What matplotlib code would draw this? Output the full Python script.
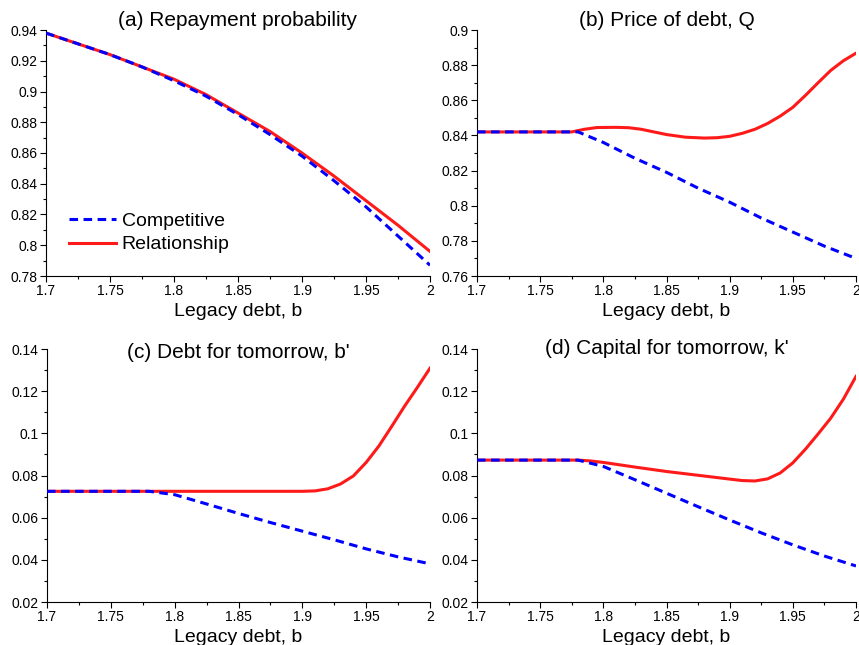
import numpy as np
import matplotlib
matplotlib.use('Agg')
import matplotlib.pyplot as plt
from matplotlib.ticker import MultipleLocator

plt.rcParams['font.family'] = ['Liberation Sans', 'DejaVu Sans']

# (a) repayment probability
b_a = [1.7, 1.725, 1.75, 1.775, 1.8, 1.825, 1.85, 1.875, 1.9, 1.925, 1.95, 1.975, 2.0]
rep_comp = [0.938, 0.931, 0.924, 0.916, 0.907, 0.897, 0.885, 0.872, 0.858, 0.842, 0.825, 0.806, 0.787]
rep_rel = [0.938, 0.931, 0.924, 0.916, 0.908, 0.898, 0.886, 0.874, 0.860, 0.845, 0.829, 0.813, 0.796]

# (b) price of debt
b_b_comp = [1.7, 1.75, 1.78, 1.8, 1.825, 1.85, 1.875, 1.9, 1.925, 1.95, 1.975, 2.0]
q_comp = [0.842, 0.842, 0.842, 0.836, 0.827, 0.819, 0.810, 0.802, 0.793, 0.785, 0.777, 0.770]
b_b_rel = [1.7, 1.75, 1.775, 1.785, 1.795, 1.81, 1.82, 1.83, 1.84, 1.85, 1.865, 1.88, 1.89, 1.9,
           1.91, 1.92, 1.93, 1.94, 1.95, 1.96, 1.97, 1.98, 1.99, 2.0]
q_rel = [0.842, 0.842, 0.842, 0.8435, 0.8445, 0.8446, 0.8444, 0.8435, 0.8420, 0.8405, 0.8390,
         0.8385, 0.8387, 0.8395, 0.8412, 0.8435, 0.8468, 0.8510, 0.8560, 0.8628, 0.8700,
         0.8770, 0.8825, 0.8868]

# (c) debt for tomorrow
b_c_comp = [1.7, 1.75, 1.78, 1.8, 1.825, 1.85, 1.875, 1.9, 1.925, 1.95, 1.975, 2.0]
bp_comp = [0.0725, 0.0725, 0.0725, 0.0709, 0.0665, 0.0620, 0.0577, 0.0536, 0.0495, 0.0452, 0.0414, 0.0381]
b_c_rel = [1.7, 1.8, 1.9, 1.91, 1.92, 1.93, 1.94, 1.95, 1.96, 1.97, 1.98, 1.99, 2.0]
bp_rel = [0.0725, 0.0725, 0.0725, 0.0727, 0.0737, 0.0760, 0.0798, 0.0862, 0.0940, 0.1033,
          0.1128, 0.1217, 0.1309]

# (d) capital for tomorrow
b_d_comp = [1.7, 1.75, 1.78, 1.8, 1.825, 1.85, 1.875, 1.9, 1.925, 1.95, 1.975, 2.0]
kp_comp = [0.0873, 0.0873, 0.0873, 0.0843, 0.0780, 0.0716, 0.0652, 0.0589, 0.0528, 0.0471, 0.0418, 0.0371]
b_d_rel = [1.7, 1.75, 1.78, 1.79, 1.8, 1.825, 1.85, 1.875, 1.9, 1.91, 1.92, 1.93, 1.94, 1.95,
           1.96, 1.97, 1.98, 1.99, 2.0]
kp_rel = [0.0873, 0.0873, 0.0873, 0.0869, 0.0862, 0.0840, 0.0819, 0.0801, 0.0783, 0.0776, 0.0774,
          0.0784, 0.0812, 0.0860, 0.0925, 0.0997, 0.1072, 0.1162, 0.1270]

titles = ['(a) Repayment probability', '(b) Price of debt, Q',
          "(c) Debt for tomorrow, b'", "(d) Capital for tomorrow, k'"]
xticks = [1.7, 1.75, 1.8, 1.85, 1.9, 1.95, 2.0]
xticklabels = ['1.7', '1.75', '1.8', '1.85', '1.9', '1.95', '2']

blue = '#0000ff'
red = '#ff1a1a'

fig = plt.figure(figsize=(8.59, 6.45), dpi=100)
W, H = 859, 645
boxes = [(46, 30, 430, 276), (477, 30, 856, 276), (47, 349, 430, 602), (477, 349, 856, 602)]
axs = []
for (l, t, r, b) in boxes:
    axs.append(fig.add_axes([l / W, 1 - b / H, (r - l) / W, (b - t) / H]))

data = [
    (b_a, rep_comp, b_a, rep_rel, (0.78, 0.94), 0.01, ['0.78', '0.8', '0.82', '0.84', '0.86', '0.88', '0.9', '0.92', '0.94']),
    (b_b_comp, q_comp, b_b_rel, q_rel, (0.76, 0.9), 0.01, ['0.76', '0.78', '0.8', '0.82', '0.84', '0.86', '0.88', '0.9']),
    (b_c_comp, bp_comp, b_c_rel, bp_rel, (0.02, 0.14), 0.01, ['0.02', '0.04', '0.06', '0.08', '0.1', '0.12', '0.14']),
    (b_d_comp, kp_comp, b_d_rel, kp_rel, (0.02, 0.14), 0.01, ['0.02', '0.04', '0.06', '0.08', '0.1', '0.12', '0.14']),
]

for i, ax in enumerate(axs):
    xc, yc, xr, yr, ylim, mnr, ylabs = data[i]
    ax.plot(xc, yc, color=blue, lw=2.2, ls=(0, (2.8, 1.8)), label='Competitive', zorder=3)
    ax.plot(xr, yr, color=red, lw=2.2, label='Relationship', zorder=2)
    ax.set_xlim(1.7, 2.0)
    ax.set_ylim(*ylim)
    ax.set_xticks(xticks)
    ax.set_xticklabels(xticklabels)
    ax.xaxis.set_minor_locator(MultipleLocator(0.025))
    ax.set_yticks(np.linspace(ylim[0], ylim[1], len(ylabs)))
    ax.set_yticklabels(ylabs)
    ax.yaxis.set_minor_locator(MultipleLocator(mnr))
    for s in ['top', 'right']:
        ax.spines[s].set_visible(False)
    ax.tick_params(which='major', direction='out', length=4, width=0.8, labelsize=10, pad=2)
    ax.tick_params(which='minor', direction='out', length=2, width=0.8)
    ax.set_xlabel('Legacy debt, b', fontsize=14, labelpad=3)
    ax.set_facecolor('none')

axs[0].text(0.5, 1.04, titles[0], transform=axs[0].transAxes, ha='center', va='center', fontsize=15)
axs[1].text(0.5, 1.04, titles[1], transform=axs[1].transAxes, ha='center', va='center', fontsize=15)
axs[2].text(0.5, 0.985, titles[2], transform=axs[2].transAxes, ha='center', va='center', fontsize=15)
axs[3].text(0.5, 1.0, titles[3], transform=axs[3].transAxes, ha='center', va='center', fontsize=15)

axs[0].legend(loc='lower left', bbox_to_anchor=(0.04, 0.06), frameon=False, fontsize=14,
              handlelength=2.4, handletextpad=0.3, labelspacing=0.3, borderaxespad=0)

fig.savefig('out.png', dpi=100)
